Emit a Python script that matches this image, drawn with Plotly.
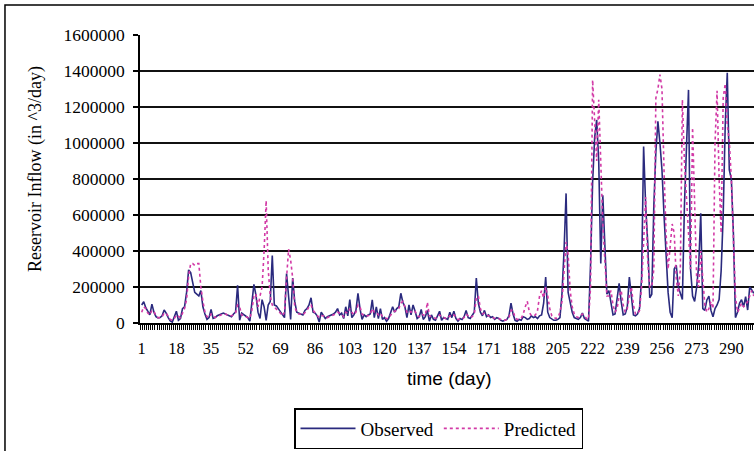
import plotly.graph_objects as go

days = list(range(1, 302))

observed = [
    100000, 118000, 85000, 60000, 45000, 105000, 60000, 35000, 28000, 30000,
    40000, 72000, 55000, 30000, 12000, 5000, 30000, 65000, 15000, 25000,
    80000, 90000, 170000, 295000, 280000, 220000, 170000, 160000, 150000, 180000,
    90000, 50000, 20000, 30000, 75000, 25000, 30000, 40000, 45000, 50000,
    55000, 50000, 45000, 40000, 35000, 50000, 60000, 210000, 15000, 55000,
    45000, 35000, 30000, 10000, 120000, 215000, 155000, 60000, 25000, 130000,
    90000, 15000, 100000, 120000, 375000, 100000, 95000, 80000, 60000, 45000,
    30000, 275000, 140000, 20000, 250000, 120000, 60000, 55000, 50000, 45000,
    70000, 80000, 100000, 140000, 60000, 55000, 40000, 5000, 60000, 40000,
    25000, 35000, 40000, 45000, 50000, 60000, 80000, 45000, 55000, 25000,
    90000, 40000, 130000, 30000, 45000, 70000, 165000, 80000, 20000, 45000,
    35000, 45000, 50000, 128000, 30000, 90000, 25000, 80000, 20000, 30000,
    10000, 25000, 60000, 90000, 60000, 80000, 90000, 165000, 115000, 90000,
    30000, 100000, 45000, 100000, 65000, 25000, 35000, 75000, 20000, 35000,
    70000, 10000, 45000, 20000, 15000, 40000, 65000, 15000, 30000, 25000,
    20000, 60000, 30000, 65000, 25000, 10000, 25000, 20000, 35000, 70000,
    30000, 25000, 40000, 60000, 250000, 110000, 60000, 40000, 70000, 35000,
    45000, 30000, 35000, 20000, 30000, 25000, 15000, 10000, 15000, 20000,
    40000, 110000, 50000, 15000, 10000, 20000, 15000, 35000, 30000, 20000,
    25000, 40000, 30000, 35000, 25000, 40000, 45000, 110000, 255000, 60000,
    30000, 20000, 15000, 15000, 20000, 30000, 165000, 400000, 720000, 170000,
    110000, 60000, 30000, 25000, 20000, 30000, 55000, 25000, 15000, 10000,
    330000, 780000, 1030000, 1128000, 900000, 330000, 710000, 450000, 160000, 180000,
    110000, 45000, 50000, 130000, 220000, 120000, 45000, 50000, 90000, 255000,
    130000, 45000, 40000, 50000, 80000, 250000, 980000, 650000, 450000, 140000,
    160000, 650000, 950000, 1120000, 1000000, 850000, 600000, 400000, 170000, 60000,
    30000, 300000, 320000, 200000, 160000, 130000, 650000, 1000000, 1295000, 300000,
    150000, 120000, 200000, 320000, 610000, 80000, 70000, 128000, 150000, 70000,
    35000, 80000, 100000, 130000, 290000, 600000, 1100000, 1390000, 850000, 800000,
    500000, 30000, 60000, 110000, 130000, 90000, 146000, 72000, 200000, 183000, 165000,
]

predicted = [
    60000, 90000, 80000, 55000, 45000, 70000, 65000, 40000, 30000, 30000,
    35000, 55000, 55000, 35000, 20000, 15000, 25000, 45000, 35000, 30000,
    55000, 80000, 130000, 260000, 330000, 330000, 320000, 330000, 330000, 200000,
    120000, 60000, 35000, 30000, 50000, 40000, 30000, 35000, 40000, 45000,
    50000, 50000, 45000, 40000, 40000, 45000, 55000, 100000, 90000, 45000,
    40000, 35000, 30000, 25000, 70000, 150000, 160000, 90000, 150000, 200000,
    400000, 680000, 300000, 150000, 100000, 90000, 80000, 70000, 55000, 40000,
    60000, 250000, 410000, 350000, 250000, 90000, 60000, 50000, 50000, 45000,
    55000, 70000, 90000, 100000, 70000, 55000, 45000, 30000, 40000, 40000,
    30000, 30000, 35000, 40000, 45000, 50000, 60000, 55000, 50000, 35000,
    60000, 55000, 80000, 60000, 45000, 60000, 100000, 90000, 50000, 40000,
    40000, 40000, 45000, 80000, 60000, 60000, 45000, 55000, 35000, 30000,
    25000, 25000, 40000, 60000, 65000, 70000, 80000, 110000, 120000, 90000,
    60000, 70000, 60000, 70000, 65000, 40000, 35000, 50000, 45000, 40000,
    115000, 40000, 35000, 30000, 25000, 30000, 45000, 35000, 30000, 25000,
    25000, 40000, 35000, 45000, 35000, 20000, 20000, 20000, 30000, 50000,
    40000, 30000, 35000, 50000, 140000, 150000, 80000, 50000, 55000, 45000,
    40000, 35000, 30000, 25000, 25000, 25000, 20000, 15000, 15000, 20000,
    30000, 70000, 70000, 30000, 20000, 20000, 25000, 50000, 90000, 120000,
    60000, 40000, 40000, 45000, 70000, 150000, 180000, 140000, 200000, 150000,
    80000, 40000, 30000, 25000, 30000, 60000, 120000, 300000, 450000, 380000,
    180000, 90000, 50000, 35000, 30000, 40000, 50000, 40000, 25000, 20000,
    200000, 1350000, 1100000, 900000, 1240000, 850000, 550000, 350000, 150000, 150000,
    180000, 100000, 60000, 80000, 150000, 180000, 100000, 60000, 80000, 150000,
    200000, 100000, 50000, 50000, 70000, 200000, 450000, 700000, 350000, 200000,
    200000, 300000, 1250000, 1300000, 1380000, 1300000, 850000, 500000, 300000, 450000,
    550000, 500000, 250000, 150000, 300000, 1240000, 900000, 700000, 500000, 300000,
    1085000, 600000, 250000, 200000, 400000, 250000, 100000, 60000, 80000, 120000,
    80000, 1000000, 1290000, 800000, 500000, 1250000, 1330000, 1100000, 1010000, 800000,
    500000, 150000, 60000, 80000, 110000, 90000, 100000, 120000, 150000, 180000, 150000,
]

x_tick_days = [1, 18, 35, 52, 69, 86, 103, 120, 137, 154, 171, 188, 205, 222, 239, 256, 273, 290, 307]
y_ticks = [0, 200000, 400000, 600000, 800000, 1000000, 1200000, 1400000, 1600000]

serif = "Liberation Serif, Times New Roman, serif"

fig = go.Figure()
fig.add_trace(go.Scatter(
    x=days, y=observed, mode="lines", name="Observed",
    line=dict(color="#2A2A7E", width=1.6),
))
fig.add_trace(go.Scatter(
    x=days, y=predicted, mode="lines", name="Predicted",
    line=dict(color="#D23AA6", width=1.6, dash="dot"),
))

fig.update_layout(
    width=754, height=451,
    margin=dict(l=140, r=0, t=35, b=128, autoexpand=False),
    paper_bgcolor="white", plot_bgcolor="white",
    showlegend=True,
    legend=dict(
        orientation="h", xref="container", yref="container",
        x=294 / 754, xanchor="left", y=2 / 451, yanchor="bottom",
        bordercolor="black", borderwidth=1.5,
        font=dict(family=serif, size=19, color="black"),
        itemwidth=55, entrywidth=0, tracegroupgap=0,
        bgcolor="white",
    ),
    shapes=[dict(
        type="rect", xref="paper", yref="paper",
        x0=-0.2199, x1=1.3, y0=-0.7, y1=1.1042,
        line=dict(color="black", width=1.5), layer="below",
    )],
    annotations=[
        dict(text="Reservoir Inflow (in ^3/day)", xref="paper", yref="paper",
             x=-0.1694, y=0.535, textangle=-90, showarrow=False,
             font=dict(family=serif, size=18, color="black"),
             xanchor="center", yanchor="middle"),
        dict(text="time (day)", xref="paper", yref="paper",
             x=0.503, y=-0.194, showarrow=False,
             font=dict(family="Liberation Sans, Arial, sans-serif", size=19, color="black"),
             xanchor="center", yanchor="middle"),
    ],
)

fig.update_xaxes(
    range=[0.17, 301.1], automargin=False,
    tickmode="array", tickvals=x_tick_days, ticktext=[str(v) for v in x_tick_days],
    ticks="", showgrid=False, zeroline=False,
    showline=True, linecolor="black", linewidth=1.5,
    tickfont=dict(family=serif, size=16.5, color="black"),
    ticklabelstandoff=9,
    minor=dict(ticks="outside", tick0=0.5, dtick=1, ticklen=5, tickwidth=1.3,
               tickcolor="black", showgrid=False),
)
fig.update_yaxes(
    range=[0, 1600000], automargin=False,
    tickmode="array", tickvals=y_ticks, ticktext=[str(v) for v in y_ticks],
    showgrid=True, gridcolor="#111111", gridwidth=1.5, zeroline=False,
    showline=True, linecolor="black", linewidth=1.5,
    ticks="outside", ticklen=5, tickcolor="black", tickwidth=1.5,
    ticklabelstandoff=5,
    tickfont=dict(family=serif, size=17.5, color="black"),
)

fig.write_html("out.html")
